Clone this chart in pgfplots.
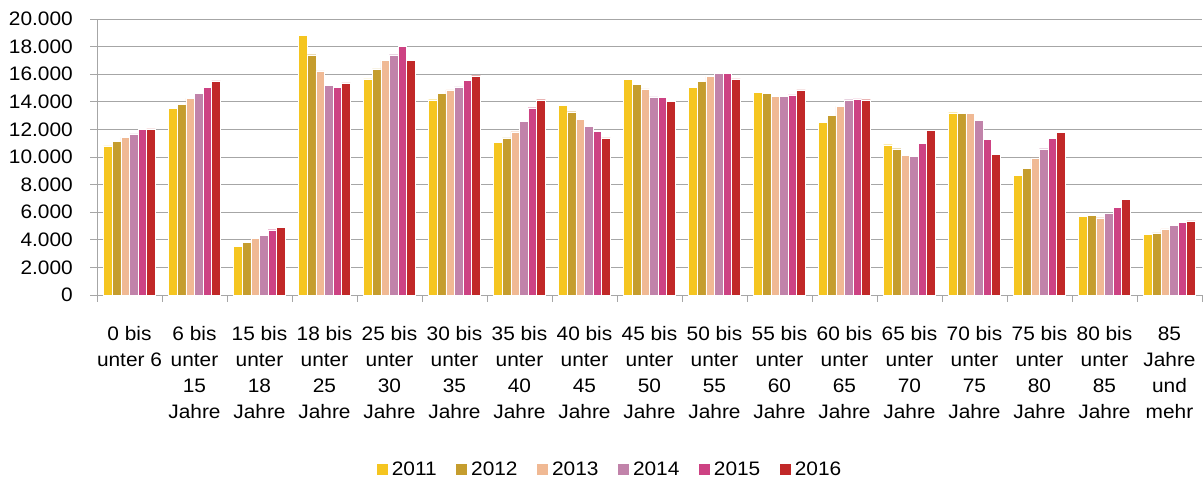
\documentclass[border=0pt]{standalone}
\usepackage{fontspec}
\setmainfont[FakeStretch=1.07]{Liberation Sans}
\usepackage{pgfplots}
\usepackage{pgfplotstable}
\pgfplotsset{compat=1.18}

\definecolor{c2011}{HTML}{F5C520}
\definecolor{c2012}{HTML}{C59D2E}
\definecolor{c2013}{HTML}{F0B994}
\definecolor{c2014}{HTML}{C183AA}
\definecolor{c2015}{HTML}{CD4283}
\definecolor{c2016}{HTML}{C12828}
\definecolor{gridc}{HTML}{A6A6A6}

% age group index, one column per year
\pgfplotstableread{
x  a2011 a2012 a2013 a2014 a2015 a2016
0  10800 11130 11420 11670 11980 12030
1  13550 13840 14250 14590 15040 15510
2  3520  3810  4080  4300  4730  4900
3  18810 17410 16250 15190 15070 15380
4  15670 16380 17000 17410 18010 17000
5  14150 14610 14860 15090 15550 15890
6  11060 11380 11830 12560 13570 14150
7  13720 13280 12720 12220 11860 11380
8  15620 15260 14930 14350 14300 14030
9  15040 15460 15840 16040 16040 15670
10 14660 14610 14370 14390 14510 14860
11 12490 13040 13670 14150 14220 14150
12 10890 10600 10120 10040 10990 11930
13 13210 13140 13140 12650 11300 10190
14 8670  9170  9930  10600 11330 11780
15 5700  5770  5600  5910  6330  6910
16 4370  4510  4800  5070  5260  5380
}\agedata

\pgfplotsset{
  sqlegend/.style={legend image code/.code={\fill[##1,draw=none] (0pt,-5.5pt) rectangle (11pt,5.5pt);}},
  yr/.style={fill=#1, draw=white, line width=0.4pt, sqlegend},
}

\begin{document}
\begin{tikzpicture}
\path[use as bounding box] (-97pt,-185pt) rectangle (1106pt,295pt);
\begin{axis}[
    at={(0pt,0pt)}, anchor=south west,
    scale only axis,
    width=1105pt, height=276pt,
    ybar=0pt, bar width=8.6pt,
    xmin=-0.5, xmax=16.5,
    ymin=0, ymax=20000,
    enlarge x limits=false,
    axis x line*=bottom, axis y line*=left,
    axis line style={draw=gridc, line width=0.9pt, -},
    ymajorgrids,
    grid style={draw=gridc, line width=0.9pt},
    tick align=outside,
    major tick length=6.5pt,
    tick style={draw=gridc, line width=0.9pt},
    ytick={0,2000,...,20000},
    scaled y ticks=false,
    /pgf/number format/1000 sep={.},
    /pgf/number format/assume math mode=true,
    yticklabel style={anchor=east, inner sep=0pt, xshift=-17.5pt,
        font=\fontsize{19.5}{26}\selectfont},
    xtick={-0.5,0.5,...,16.5},
    xticklabels={{0 bis\\unter 6},{6 bis\\unter\\15\\Jahre},{15 bis\\unter\\18\\Jahre},
        {18 bis\\unter\\25\\Jahre},{25 bis\\unter\\30\\Jahre},{30 bis\\unter\\35\\Jahre},
        {35 bis\\unter\\40\\Jahre},{40 bis\\unter\\45\\Jahre},{45 bis\\unter\\50\\Jahre},
        {50 bis\\unter\\55\\Jahre},{55 bis\\unter\\60\\Jahre},{60 bis\\unter\\65\\Jahre},
        {65 bis\\unter\\70\\Jahre},{70 bis\\unter\\75\\Jahre},{75 bis\\unter\\80\\Jahre},
        {80 bis\\unter\\85\\Jahre},{85\\Jahre\\und\\mehr},{}},
    xticklabel style={anchor=north, align=center, inner sep=0pt,
        xshift=32.5pt, yshift=-25pt, font=\fontsize{19.5}{26}\selectfont},
    legend columns=6,
    legend style={at={(0.4643,-0.632)}, anchor=center, draw=none, fill=none,
        font=\fontsize{19.5}{24}\selectfont,
        nodes={inner sep=2pt},
        /tikz/every odd column/.append style={column sep=2pt},
        /tikz/every even column/.append style={column sep=17.5pt}},
]
\addplot[yr=c2011] table[x=x, y=a2011] {\agedata};
\addlegendentry{2011}
\addplot[yr=c2012] table[x=x, y=a2012] {\agedata};
\addlegendentry{2012}
\addplot[yr=c2013] table[x=x, y=a2013] {\agedata};
\addlegendentry{2013}
\addplot[yr=c2014] table[x=x, y=a2014] {\agedata};
\addlegendentry{2014}
\addplot[yr=c2015] table[x=x, y=a2015] {\agedata};
\addlegendentry{2015}
\addplot[yr=c2016] table[x=x, y=a2016] {\agedata};
\addlegendentry{2016}
\end{axis}
\end{tikzpicture}
\end{document}
